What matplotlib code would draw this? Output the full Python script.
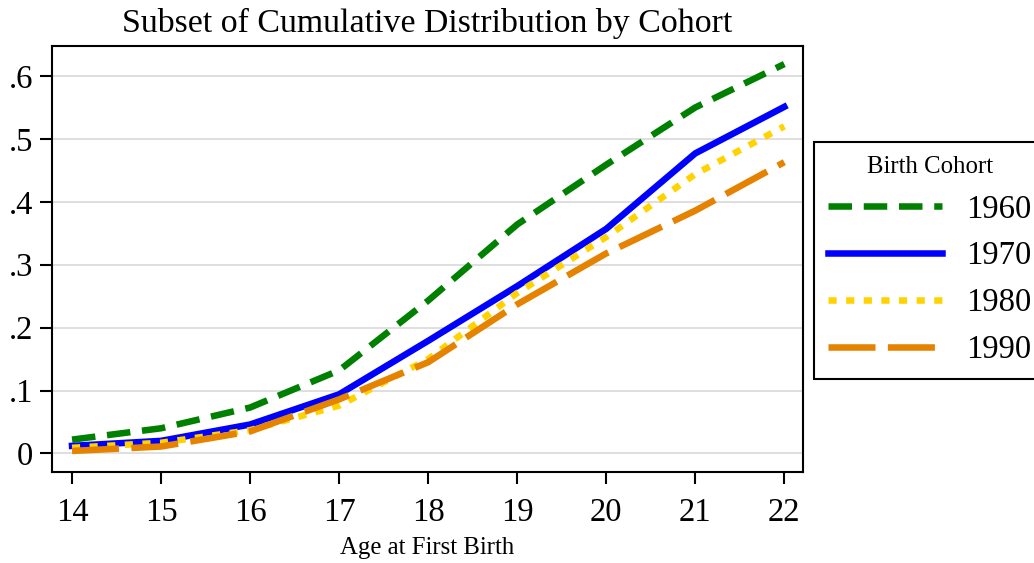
import matplotlib.pyplot as plt

# Share of each cohort with a first birth by a given age
ages = [14, 15, 16, 17, 18, 19, 20, 21, 22]
cohorts = ['1960', '1970', '1980', '1990']
share_1960 = [0.022, 0.040, 0.073, 0.132, 0.243, 0.364, 0.459, 0.550, 0.619]
share_1970 = [0.012, 0.020, 0.046, 0.094, 0.179, 0.266, 0.357, 0.477, 0.551]
share_1980 = [0.009, 0.017, 0.037, 0.076, 0.150, 0.255, 0.344, 0.444, 0.520]
share_1990 = [0.004, 0.011, 0.035, 0.086, 0.145, 0.237, 0.318, 0.386, 0.463]
y_ticks = [0, 0.1, 0.2, 0.3, 0.4, 0.5, 0.6]
y_tick_labels = ['0', '.1', '.2', '.3', '.4', '.5', '.6']

plt.rcParams['font.family'] = ['Liberation Serif', 'DejaVu Serif']

fig = plt.figure(figsize=(10.34, 5.63), dpi=100)
ax = fig.add_axes([52 / 1034, 1 - 472 / 563, (803 - 52) / 1034, (472 - 46) / 563])

lw = 4.7
ax.plot(ages, share_1960, color='#008000', lw=lw, dashes=(3.6, 1.8), label=cohorts[0])
ax.plot(ages, share_1970, color='#0000ff', lw=lw, label=cohorts[1])
ax.plot(ages, share_1980, color='#ffd200', lw=lw, dashes=(1.25, 1.45), label=cohorts[2])
ax.plot(ages, share_1990, color='#e58200', lw=lw, dashes=(7.2, 1.9), label=cohorts[3])

ax.set_xlim(13.775, 22.21)
ax.set_ylim(-0.0295, 0.6477)
ax.set_xticks(ages)
ax.set_yticks(y_ticks)
ax.set_yticklabels(y_tick_labels)
ax.yaxis.grid(True, color='#dcdcdc', lw=1.3)
ax.set_axisbelow(True)

for side in ax.spines.values():
    side.set_linewidth(1.5)
ax.tick_params(direction='out', length=8.5, width=1.5, labelsize=23.5)
ax.tick_params(axis='x', pad=10)
ax.tick_params(axis='y', pad=5)

ax.set_title('Subset of Cumulative Distribution by Cohort', fontsize=24.4, pad=10)
ax.set_xlabel('Age at First Birth', fontsize=17.8, labelpad=6.5)

leg = ax.legend(title='Birth Cohort', loc='upper left', bbox_to_anchor=(814 / 1034, 1 - 142 / 563),
                bbox_transform=fig.transFigure, fontsize=23.5, title_fontsize=17.8,
                frameon=True, fancybox=False, framealpha=1, edgecolor='black', handlelength=3.5,
                handletextpad=0.75, labelspacing=0.5, borderpad=0.42, borderaxespad=0)
leg.get_frame().set_linewidth(1.5)

fig.savefig('out.png', dpi=100)
